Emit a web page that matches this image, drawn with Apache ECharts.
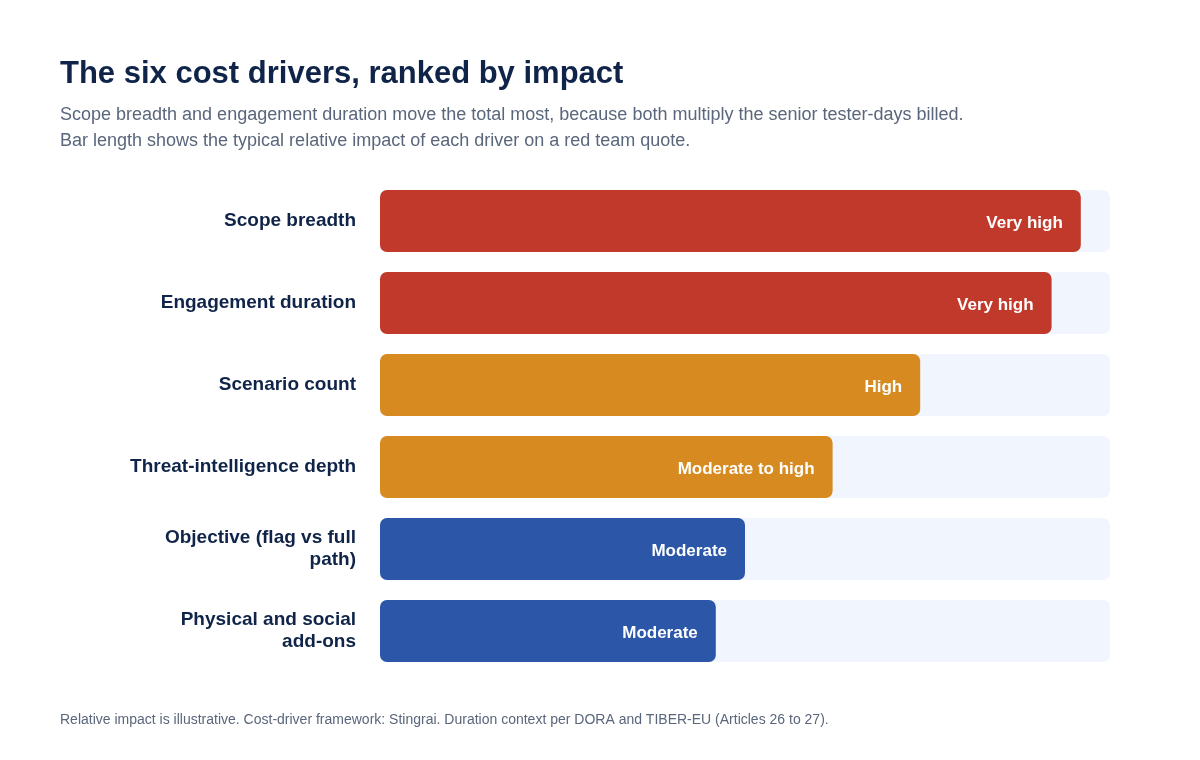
<!DOCTYPE html>
<html>
<head>
<meta charset="utf-8">
<script src="https://cdn.jsdelivr.net/npm/echarts@6/dist/echarts.min.js"></script>
<style>
  html, body { margin: 0; padding: 0; background: #fff; }
  #chart { width: 1200px; height: 760px; }
</style>
</head>
<body>
<div id="chart"></div>
<script>
  // data
  var drivers = [
    'Scope breadth',
    'Engagement duration',
    'Scenario count',
    'Threat-intelligence depth',
    'Objective (flag vs full\npath)',
    'Physical and social\nadd-ons'
  ];
  var impact = [96, 92, 74, 62, 50, 46];
  var impactLabels = ['Very high', 'Very high', 'High', 'Moderate to high', 'Moderate', 'Moderate'];
  var levelColors = ['#c0392b', '#c0392b', '#d68a20', '#d68a20', '#2c56a8', '#2c56a8'];

  var font = '"Liberation Sans", Arial, Helvetica, sans-serif';
  var navy = '#0f2448';

  var chart = echarts.init(document.getElementById('chart'));
  chart.setOption({
    backgroundColor: '#ffffff',
    textStyle: { fontFamily: font },
    title: {
      left: 55,
      top: 54,
      text: 'The six cost drivers, ranked by impact',
      textStyle: { fontSize: 31, fontWeight: 'bold', color: navy, fontFamily: font },
      subtext: 'Scope breadth and engagement duration move the total most, because both multiply the senior tester-days billed.\nBar length shows the typical relative impact of each driver on a red team quote.',
      subtextStyle: { fontSize: 18, color: '#5a667b', lineHeight: 26, fontFamily: font },
      itemGap: 12
    },
    grid: { left: 380, right: 90, top: 180, bottom: 88 },
    xAxis: {
      type: 'value',
      min: 0,
      max: 100,
      show: false
    },
    yAxis: {
      type: 'category',
      data: drivers,
      inverse: true,
      axisLine: { show: false },
      axisTick: { show: false },
      axisLabel: {
        margin: 24,
        fontSize: 19,
        fontWeight: 'bold',
        color: navy,
        lineHeight: 22,
        align: 'right',
        fontFamily: font
      }
    },
    series: [{
      type: 'bar',
      barWidth: 62,
      data: impact.map(function (v, i) {
        return { value: v, itemStyle: { color: levelColors[i] } };
      }),
      itemStyle: { borderRadius: 7 },
      showBackground: true,
      backgroundStyle: { color: '#f1f6fe', borderRadius: 7 },
      label: {
        show: true,
        position: 'insideRight',
        distance: 18,
        offset: [0, 2],
        color: '#ffffff',
        fontSize: 17,
        fontWeight: 'bold',
        fontFamily: font,
        formatter: function (p) { return impactLabels[p.dataIndex]; }
      },
      silent: true
    }],
    graphic: [{
      type: 'text',
      left: 60,
      top: 713,
      style: {
        text: 'Relative impact is illustrative. Cost-driver framework: Stingrai. Duration context per DORA and TIBER-EU (Articles 26 to 27).',
        fontSize: 14,
        fill: '#5a667b',
        fontFamily: font
      }
    }]
  });
</script>
</body>
</html>
